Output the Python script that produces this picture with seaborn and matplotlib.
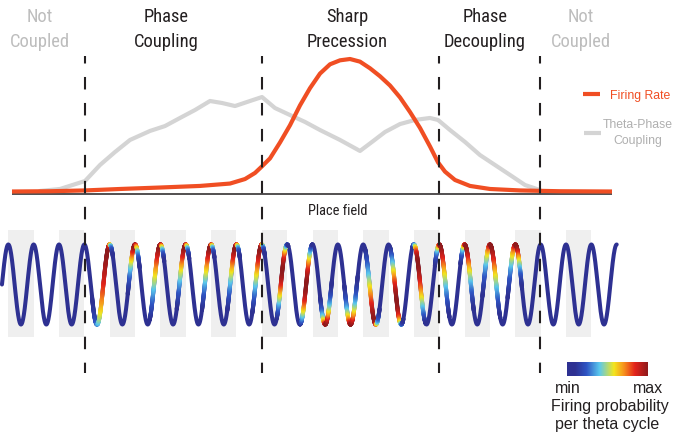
import os
import numpy as np
import matplotlib
matplotlib.use("Agg")
import matplotlib.pyplot as plt
import seaborn as sns
from matplotlib import font_manager
from matplotlib.font_manager import FontProperties
from matplotlib.colors import LinearSegmentedColormap
from matplotlib.collections import LineCollection

# ---------------- data (positions along the track, arbitrary units) ----------------
rate_pos = [12, 50, 85, 120, 160, 200, 230, 245, 255, 262, 270, 280, 290, 300, 310, 320,
            330, 340, 350, 360, 370, 380, 390, 400, 410, 420, 430, 438, 445, 455, 470,
            490, 520, 560, 612]
rate_val = [0, 0.002, 0.008, 0.019, 0.03, 0.042, 0.06, 0.094, 0.14, 0.19, 0.25, 0.37,
            0.50, 0.65, 0.78, 0.89, 0.96, 0.99, 1.0, 0.98, 0.93, 0.87, 0.80, 0.71, 0.60,
            0.48, 0.34, 0.22, 0.15, 0.087, 0.042, 0.019, 0.008, 0.002, 0]

coupling_pos = [40, 60, 85, 100, 115, 130, 150, 165, 180, 195, 210, 222, 235, 250, 262,
                275, 290, 305, 320, 340, 360, 372, 385, 400, 415, 430, 438, 450, 465, 480,
                495, 510, 525, 540]
coupling_val = [0.004, 0.019, 0.079, 0.2, 0.298, 0.389, 0.457, 0.494, 0.555, 0.615, 0.683,
                0.668, 0.645, 0.683, 0.713, 0.630, 0.577, 0.525, 0.464, 0.389, 0.306, 0.374,
                0.449, 0.509, 0.540, 0.555, 0.540, 0.464, 0.374, 0.275, 0.200, 0.125, 0.049,
                0.011]

zone_bounds = [85, 262, 439, 540]
zone_centers = [40, 166, 347, 485, 581]
zone_labels = [("Not", "Coupled"), ("Phase", "Coupling"), ("Sharp", "Precession"),
               ("Phase", "Decoupling"), ("Not", "Coupled")]
zone_active = [False, True, True, True, False]

theta_first_peak = 8.3
theta_period = 25.35
theta_n_cycles = 24

# position of maximal firing within each theta cycle, and its spread before / after it
firing_center = [107.7, 134.5, 159.8, 184.8, 210.0, 235.3, 260.3,
                 282.5, 306.3, 326.0, 351.0, 374.0, 396.7, 418.0, 440.5,
                 466.0, 491.3, 516.5]
spread_before = [7.0, 3.0, 4.5, 3.6, 3.6, 3.6, 3.6,
                 2.6, 2.8, 2.6, 3.0, 4.0, 3.0, 2.5, 2.5,
                 2.5, 4.0, 4.0]
spread_after = [2.3, 2.3, 2.0, 2.0, 2.0, 2.0, 2.0,
                2.6, 2.8, 2.6, 3.0, 2.5, 3.0, 3.5, 4.0,
                3.5, 4.0, 2.5]

cbar_colors = ['#2E3192', '#2E3192', '#2F55C4', '#5AC8EE', '#F3E61E', '#F7941D', '#E3231B', '#8E1A1C']
cbar_stops = [0.0, 0.10, 0.24, 0.40, 0.58, 0.70, 0.84, 1.0]

# ---------------- style ----------------
sns.set_theme(style="white")
plt.rcParams['font.family'] = ['Liberation Sans', 'DejaVu Sans']
plt.rcParams['lines.scale_dashes'] = False


def pick_condensed():
    order = ['liberation', 'arial', 'roboto', 'noto', 'open', 'dejavu', 'lato', 'inter']
    found = []
    for f in font_manager.fontManager.ttflist:
        base = os.path.splitext(os.path.basename(f.fname))[0].lower()
        key = (f.name + ' ' + base).lower()
        if not ('narrow' in key or 'condensed' in key or str(f.stretch) == 'condensed'):
            continue
        if any(b in base for b in ('bold', 'italic', 'oblique', 'light', 'thin', 'medium',
                                   'black', 'semi', 'extra', 'ultra', 'heavy')):
            continue
        if f.style != 'normal':
            continue
        rank = len(order)
        for i, o in enumerate(order):
            if o in key:
                rank = i
                break
        found.append((rank, f.fname))
    if not found:
        return None
    found.sort()
    return found[0][1]


cond_path = pick_condensed()
COND = FontProperties(fname=cond_path) if cond_path else FontProperties(family='Liberation Sans')
REG = FontProperties(family='Liberation Sans')

ORANGE = '#F04E23'
LGRAY = '#D4D4D4'
NAVY = '#2E3192'
INK = '#231F20'

W, H = 675, 440
fig = plt.figure(figsize=(W / 100, H / 100), dpi=100)
fig.patch.set_facecolor('white')
renderer = fig.canvas.get_renderer()


def fit_size(text, fp, target_px, base=12.0):
    t = fig.text(0, 0, text, fontproperties=fp, fontsize=base)
    w = t.get_window_extent(renderer=renderer).width
    t.remove()
    return base * target_px / w


# theta axes: cos value, center at 284.5 px, amplitude 40 px
ax_theta = fig.add_axes([0, 0, 1, 1])
ax_theta.set_xlim(0, W)
ax_theta.set_ylim((284.5 - H) / 40.0, 284.5 / 40.0)
# rate axes: rate 0 at 191.5 px, rate 1 at 59 px
ax_rate = fig.add_axes([0, 0, 1, 1])
ax_rate.set_xlim(0, W)
ax_rate.set_ylim((191.5 - H) / 132.5, 191.5 / 132.5)
# frame axes in pixel units for annotation layout
ax_fr = fig.add_axes([0, 0, 1, 1])
ax_fr.set_xlim(0, W)
ax_fr.set_ylim(H, 0)
for a in (ax_theta, ax_rate, ax_fr):
    a.set_axis_off()
    a.patch.set_alpha(0)

cmap = LinearSegmentedColormap.from_list('fire', list(zip(cbar_stops, cbar_colors)))

# ---- theta shading: every other cycle ----
for k in range(0, theta_n_cycles, 2):
    x0 = theta_first_peak + k * theta_period
    ax_theta.axvspan(x0, x0 + theta_period, ymin=1 - 337 / H, ymax=1 - 230 / H,
                     color='#EFEFEF', lw=0, zorder=0)

# ---- theta wave ----
xw = np.linspace(theta_first_peak - theta_period / 4,
                 theta_first_peak + theta_n_cycles * theta_period, 9000)
vw = np.cos(2 * np.pi * (xw - theta_first_peak) / theta_period)
sns.lineplot(x=xw, y=vw, ax=ax_theta, color=NAVY, lw=2.9, sort=False, estimator=None,
             solid_capstyle='round', zorder=2)

xm = 0.5 * (xw[1:] + xw[:-1])
inten = np.zeros_like(xm)
for c, sb, sa in zip(firing_center, spread_before, spread_after):
    s = np.where(xm < c, sb, sa)
    inten = np.maximum(inten, np.exp(-0.5 * ((xm - c) / s) ** 2))
pts = np.column_stack([xw, vw])
segs = np.stack([pts[:-1], pts[1:]], axis=1)
mask = inten > 0.08
lc = LineCollection(segs[mask], colors=cmap(inten[mask]), linewidths=2.9,
                    capstyle='round', zorder=3)
ax_theta.add_collection(lc)

# ---- place field curves ----
sns.lineplot(x=coupling_pos, y=coupling_val, ax=ax_rate, color=LGRAY, lw=3.0,
             sort=False, estimator=None, zorder=2)
ax_rate.hlines(-0.019, 12, 612, color=INK, lw=1.1, zorder=1)
sns.lineplot(x=rate_pos, y=rate_val, ax=ax_rate, color=ORANGE, lw=3.0,
             sort=False, estimator=None, zorder=3, solid_capstyle='butt')

# ---- zone boundaries ----
for xb in zone_bounds:
    ax_fr.plot([xb, xb], [56, 373], color=INK, lw=1.5,
               linestyle=(3.6, (9.0, 9.7)), zorder=10)

# ---- zone labels ----
fs_zone = fit_size("Precession", COND, 81)
for xc, (l1, l2), act in zip(zone_centers, zone_labels, zone_active):
    col = INK if act else '#BDBDBD'
    ax_fr.text(xc, 21.6, l1, ha='center', va='baseline', fontsize=fs_zone,
               color=col, fontproperties=COND)
    ax_fr.text(xc, 47.3, l2, ha='center', va='baseline', fontsize=fs_zone,
               color=col, fontproperties=COND)

fs_pf = fit_size("Place field", COND, 60)
ax_fr.text(338, 215, "Place field", ha='center', va='baseline', fontsize=fs_pf,
           color=INK, fontproperties=COND)

# ---- legend ----
fs_leg = fit_size("Theta-Phase", REG, 70)
ax_fr.plot([583, 600], [94.5, 94.5], color=ORANGE, lw=3.0, solid_capstyle='butt')
ax_fr.text(610, 98.6, "Firing Rate", ha='left', va='baseline', fontsize=fs_leg,
           color=ORANGE, fontproperties=REG)
ax_fr.plot([584, 601], [133.3, 133.3], color=LGRAY, lw=3.0, solid_capstyle='butt')
ax_fr.text(638, 127.6, "Theta-Phase", ha='center', va='baseline', fontsize=fs_leg,
           color='#AFAFAF', fontproperties=REG)
ax_fr.text(638, 143.6, "Coupling", ha='center', va='baseline', fontsize=fs_leg,
           color='#AFAFAF', fontproperties=REG)

# ---- colour bar ----
cax = fig.add_axes([567.3 / W, 1 - 376 / H, 81 / W, 14.3 / H])
cax.imshow(np.linspace(0, 1, 256)[None, :], cmap=cmap, aspect='auto')
cax.set_axis_off()
fs_cb = fit_size("Firing probability", REG, 118)
ax_fr.text(567.7, 393.3, "min", ha='center', va='baseline', fontsize=fs_cb, color=INK,
           fontproperties=REG)
ax_fr.text(648, 393.3, "max", ha='center', va='baseline', fontsize=fs_cb, color=INK,
           fontproperties=REG)
ax_fr.text(610, 411.5, "Firing probability", ha='center', va='baseline', fontsize=fs_cb,
           color=INK, fontproperties=REG)
ax_fr.text(607, 429.5, "per theta cycle", ha='center', va='baseline', fontsize=fs_cb,
           color=INK, fontproperties=REG)

fig.savefig("out.png", dpi=100, facecolor='white')
